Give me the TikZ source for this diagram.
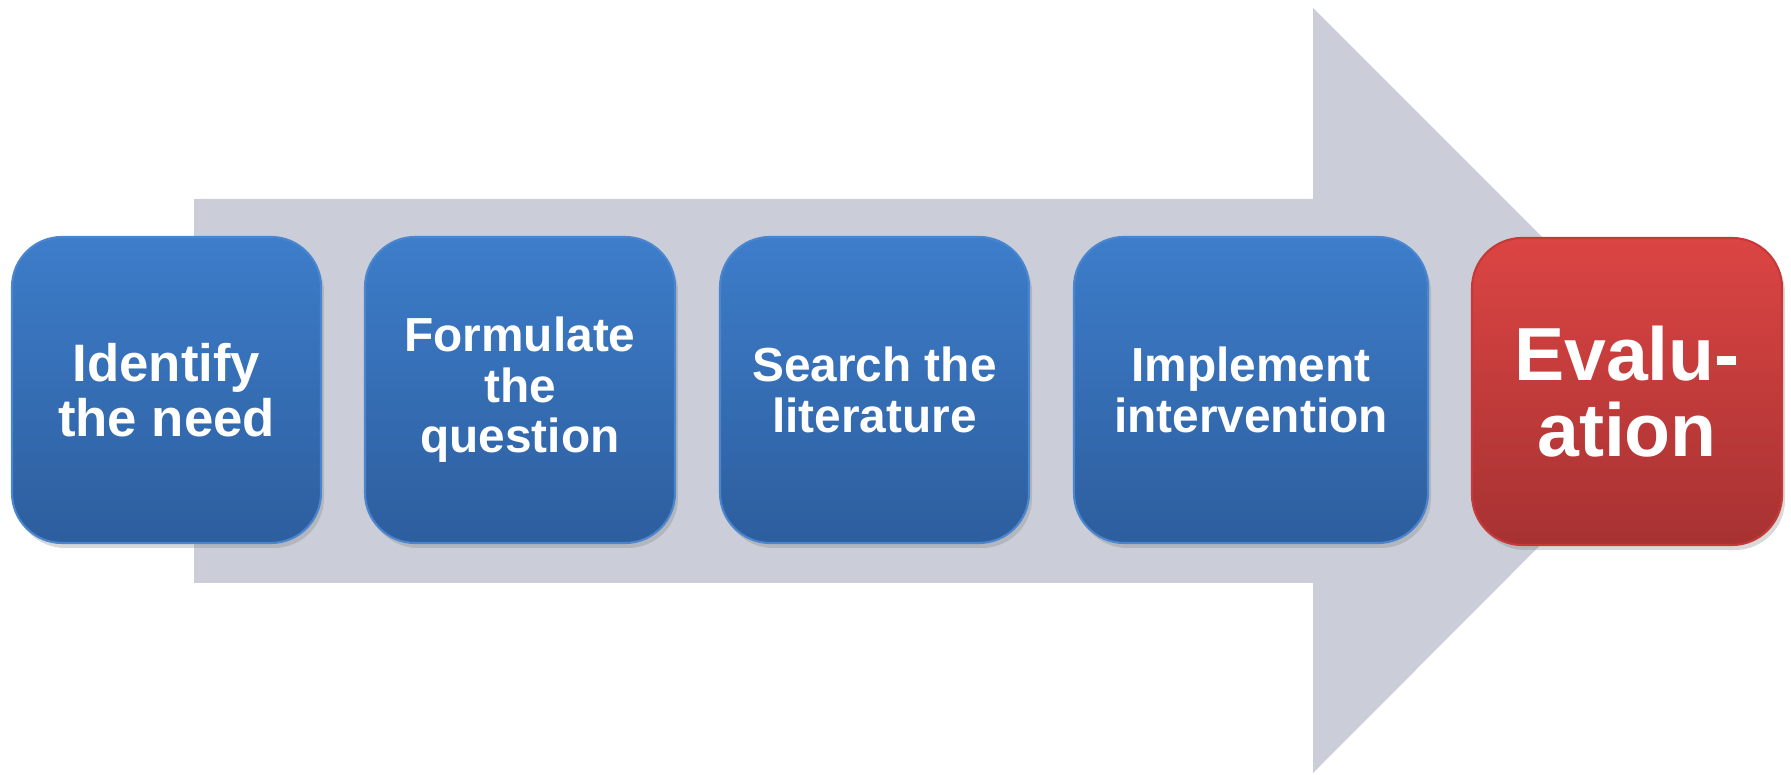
\documentclass[tikz,border=0pt]{standalone}
\usepackage{fontspec}
\setmainfont{Liberation Sans}
\usetikzlibrary{shadows}
\definecolor{arrowgray}{HTML}{CBCED8}
\definecolor{bluetop}{HTML}{3D7DCA}
\definecolor{bluebot}{HTML}{2D5E9E}
\definecolor{blueedge}{HTML}{4A86CF}
\definecolor{redtop}{HTML}{DB4543}
\definecolor{redbot}{HTML}{A73232}
\definecolor{rededge}{HTML}{C53A38}
\begin{document}
\begin{tikzpicture}
  [x=1cm,y=1cm,every node/.style={rounded corners=0.5cm,align=center,text=white,inner sep=0pt,
     minimum height=3.06cm,line width=0.6pt,
     drop shadow={shadow xshift=0.03cm,shadow yshift=-0.05cm,opacity=0.3}},
   stepbox/.style={top color=bluetop,bottom color=bluebot,draw=blueedge,
     font=\bfseries\fontsize{13.6}{14.4}\selectfont},
   endbox/.style={top color=redtop,bottom color=redbot,draw=rededge,
     font=\bfseries\fontsize{21.4}{21.6}\selectfont}]
  \useasboundingbox (0,0) rectangle (17.91,7.75);
  % big arrow behind
  \fill[arrowgray] (1.94,5.76) -- (13.13,5.76) -- (13.13,7.67) -- (16.95,3.85)
    -- (13.13,0.02) -- (13.13,1.92) -- (1.94,1.92) -- cycle;

  \node[stepbox,minimum width=3.09cm,font=\bfseries\fontsize{15}{15.6}\selectfont] (s1) at (1.665,3.85) {Identify\\the need};
  \node[stepbox,minimum width=3.10cm] (s2) at (5.20,3.85) {Formulate\\the\\question};
  \node[stepbox,minimum width=3.09cm] (s3) at (8.745,3.85) {Search the\\literature};
  \node[stepbox,minimum width=3.54cm] (s4) at (12.51,3.85) {Implement\\intervention};
  \node[endbox,minimum width=3.10cm,minimum height=3.07cm] (s5) at (16.27,3.835) {Evalu-\\ation};
\end{tikzpicture}
\end{document}
